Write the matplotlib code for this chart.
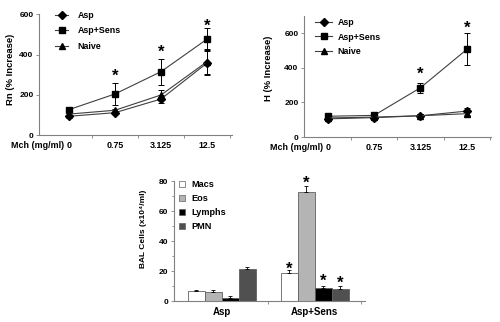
import matplotlib
matplotlib.use('Agg')
import matplotlib.pyplot as plt
from matplotlib.lines import Line2D
import matplotlib.transforms as mtransforms
import numpy as np

plt.rcParams['font.family'] = ['Liberation Sans', 'DejaVu Sans']
plt.rcParams['font.weight'] = 'bold'

# ---------------- data ----------------
mch_labels = ['0', '0.75', '3.125', '12.5']
series_names = ['Asp', 'Asp+Sens', 'Naive']

rn_asp = [93, 111, 179, 358]
rn_asp_err = [8, 8, 20, 58]
rn_sens = [126, 204, 315, 477]
rn_sens_err = [12, 54, 64, 54]
rn_naive = [104, 123, 199, 365]
rn_naive_err = [8, 8, 25, 62]
rn_star_idx = [1, 2, 3]
rn_star_y = [315, 433, 564]

h_asp = [105, 112, 123, 150]
h_asp_err = [8, 6, 8, 20]
h_sens = [120, 125, 285, 507]
h_sens_err = [10, 8, 30, 92]
h_naive = [110, 115, 123, 135]
h_naive_err = [8, 6, 8, 15]
h_star_idx = [2, 3]
h_star_y = [387, 657]

groups = ['Asp', 'Asp+Sens']
cell_types = ['Macs', 'Eos', 'Lymphs', 'PMN']
macs = [6.7, 18.7]
macs_err = [0.6, 1.8]
eos = [6.0, 72.5]
eos_err = [1.1, 4.5]
lymphs = [2.3, 8.9]
lymphs_err = [1.0, 1.1]
pmn = [21.6, 8.3]
pmn_err = [0.9, 1.5]
bal_star_y = [24, 81.3, 16.2, 14.5]   # asterisks over Asp+Sens bars

# ---------------- style ----------------
W, H = 500, 322
fig = plt.figure(figsize=(W / 100, H / 100), dpi=100)
spine_c = '#808080'
line_c = '#404040'
tick_fs = 6.0
lab_fs = 6.4


def px_axes(l, t, r, b):
    return fig.add_axes([l / W, 1 - b / H, (r - l) / W, (b - t) / H])


def style_axes(ax):
    for s in ['top', 'right']:
        ax.spines[s].set_visible(False)
    for s in ['left', 'bottom']:
        ax.spines[s].set_color(spine_c)
        ax.spines[s].set_linewidth(0.8)
    ax.tick_params(axis='y', which='both', direction='out', length=2.5, width=0.6,
                   color=spine_c, labelsize=tick_fs, pad=1.5)
    ax.tick_params(axis='x', which='major', length=0, labelsize=lab_fs, pad=4)
    ax.tick_params(axis='x', which='minor', direction='out', length=2.5, width=0.6,
                   color=spine_c)


def star(ax, x, y, fs=12):
    ax.annotate('*', (x, y), xytext=(0, -6.4), textcoords='offset points',
                ha='center', va='baseline', fontsize=fs, fontweight='bold',
                annotation_clip=False)


MARKERS = [('D', 3.6), ('s', 4.6), ('^', 4.6)]


def line_panel(ax, asp, asp_e, sens, sens_e, naive, naive_e, ylim, yticks, ylabel,
               xlim, star_idx, star_y):
    x = np.arange(len(mch_labels))
    for (vals, err), (mk, ms) in zip([(asp, asp_e), (sens, sens_e), (naive, naive_e)], MARKERS):
        ax.errorbar(x, vals, yerr=err, color=line_c, lw=0.8, marker=mk, ms=ms,
                    mfc='black', mec='black', ecolor='black', elinewidth=0.7,
                    capsize=2, capthick=0.7, zorder=3)
    ax.set_xlim(*xlim)
    ax.set_ylim(*ylim)
    ax.set_yticks(yticks)
    ax.set_xticks(x)
    ax.set_xticklabels(mch_labels)
    ax.set_xticks(np.arange(len(mch_labels)) + 0.5, minor=True)
    style_axes(ax)
    ax.set_ylabel(ylabel, fontsize=6.8, fontweight='bold')
    trans = mtransforms.blended_transform_factory(ax.transData, ax.transAxes)
    ax.annotate('Mch (mg/ml)', (0, 0), xycoords=trans, xytext=(-3.6, -4),
                textcoords='offset points', ha='right', va='top', fontsize=lab_fs,
                fontweight='bold')
    for i, yv in zip(star_idx, star_y):
        star(ax, i, yv)


def legend_handles():
    return [Line2D([], [], color=line_c, lw=0.8, marker=m, ms=s, mfc='black', mec='black')
            for m, s in MARKERS]


# ---- top-left: Rn ----
ax1 = px_axes(39, 14.3, 232, 135)
line_panel(ax1, rn_asp, rn_asp_err, rn_sens, rn_sens_err, rn_naive, rn_naive_err,
           (0, 600), [0, 200, 400, 600], 'Rn (% Increase)', (-0.65, 3.54),
           rn_star_idx, rn_star_y)
ax1.yaxis.set_label_coords(-0.125, 0.54)
ax1.legend(legend_handles(), series_names, loc='upper left',
           bbox_to_anchor=(55 / W, 1 - 11 / H), bbox_transform=fig.transFigure,
           frameon=False, borderpad=0, borderaxespad=0, handlelength=1.5,
           handletextpad=1.05, labelspacing=0.72, fontsize=lab_fs)

# ---- top-right: H ----
ax2 = px_axes(304, 16, 491, 137)
line_panel(ax2, h_asp, h_asp_err, h_sens, h_sens_err, h_naive, h_naive_err,
           (0, 700), [0, 200, 400, 600], 'H (% Increase)', (-0.51, 3.52),
           h_star_idx, h_star_y)
ax2.yaxis.set_label_coords(-0.167, 0.57)
ax2.legend(legend_handles(), series_names, loc='upper left',
           bbox_to_anchor=(315 / W, 1 - 18 / H), bbox_transform=fig.transFigure,
           frameon=False, borderpad=0, borderaxespad=0, handlelength=1.95,
           handletextpad=0.6, labelspacing=0.62, fontsize=lab_fs)

# ---- bottom: BAL cells ----
ax3 = px_axes(174, 181, 365, 301)
gx = np.arange(len(groups))
bw = 0.183
bar_vals = [macs, eos, lymphs, pmn]
bar_errs = [macs_err, eos_err, lymphs_err, pmn_err]
bar_fc = ['white', '#b4b4b4', 'black', '#505050']
for i, (vals, errs, fc) in enumerate(zip(bar_vals, bar_errs, bar_fc)):
    pos = gx + (i - 1.5) * bw
    ax3.bar(pos, vals, width=bw, color=fc, edgecolor='#606060', lw=0.6, zorder=2)
    ax3.errorbar(pos, vals, yerr=[np.zeros(len(vals)), errs], fmt='none',
                 ecolor='black', elinewidth=0.6, capsize=1.5, capthick=0.6, zorder=3)
    star(ax3, gx[1] + (i - 1.5) * bw, bal_star_y[i])
ax3.set_xlim(-0.516, 1.54)
ax3.set_ylim(0, 80)
ax3.set_yticks([0, 20, 40, 60, 80])
ax3.set_yticks(np.arange(0, 81, 10), minor=True)
ax3.set_xticks(gx)
ax3.set_xticklabels(groups)
ax3.set_xticks([0.5, 1.5], minor=True)
style_axes(ax3)
ax3.tick_params(axis='x', which='major', labelsize=7)
ax3.tick_params(axis='y', which='minor', length=1.5, labelleft=False)
ax3.set_ylabel('BAL Cells (x10⁴/ml)', fontsize=6.0, fontweight='bold')
ax3.yaxis.set_label_coords(-0.14, 0.6)
bal_handles = [Line2D([], [], ls='none', marker='s', ms=3.8, mfc=fc, mec='#606060', mew=0.5)
               for fc in bar_fc]
ax3.legend(bal_handles, cell_types, loc='upper left',
           bbox_to_anchor=(179.5 / W, 1 - 180 / H), bbox_transform=fig.transFigure,
           frameon=False, borderpad=0, borderaxespad=0, handlelength=0.6,
           handletextpad=0.7, labelspacing=0.55, fontsize=6.6)

fig.savefig('out.png', dpi=100)
